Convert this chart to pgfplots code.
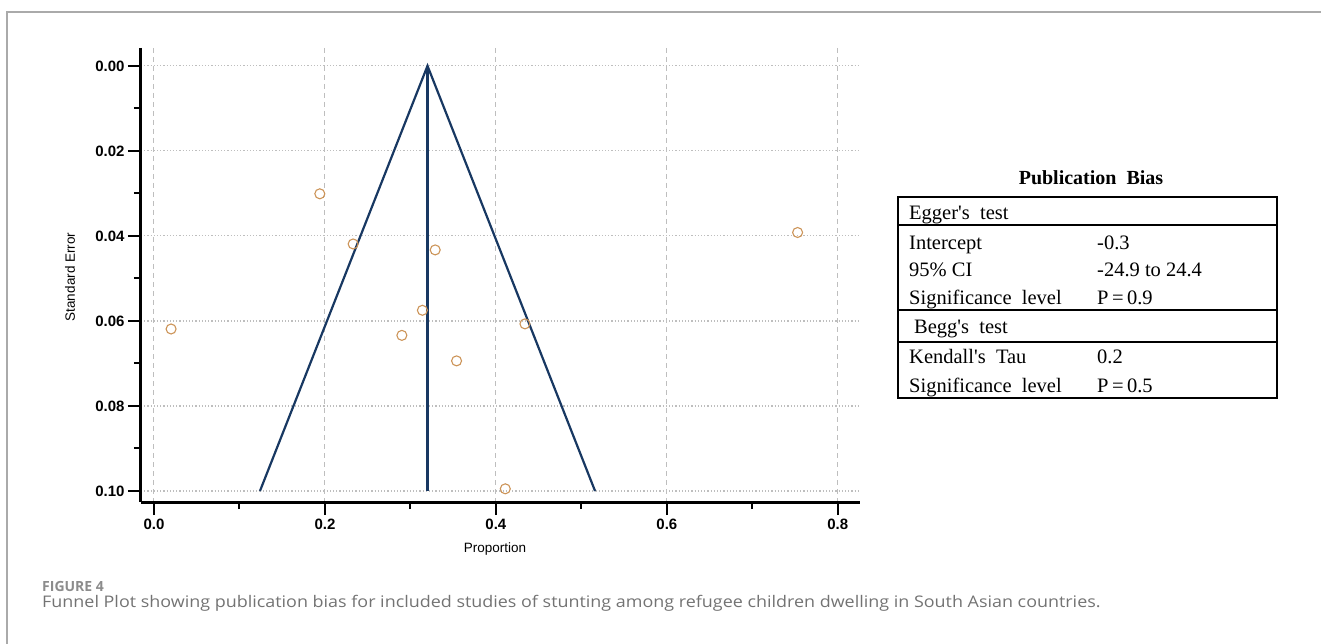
\documentclass[border=0pt]{standalone}
\usepackage{pgfplots}
\pgfplotsset{compat=1.18}
\usepackage{fontspec}
\setmainfont{Liberation Serif}
\newfontfamily\arialf{Liberation Sans}
\newfontfamily\timesf{Liberation Serif}
\newfontfamily\capf{Open Sans}

\definecolor{funnelblue}{RGB}{24,56,98}
\definecolor{studypt}{RGB}{204,148,88}
\definecolor{gridgray}{RGB}{190,190,190}
\definecolor{framegray}{RGB}{170,170,170}
\definecolor{capgray}{RGB}{115,115,115}
\definecolor{figgray}{RGB}{140,140,140}

% study estimates: proportion and standard error
\pgfplotstableread{
p      se
0.194  0.0301
0.233  0.0419
0.329  0.0433
0.314  0.0575
0.020  0.0619
0.290  0.0634
0.354  0.0694
0.434  0.0607
0.411  0.0995
0.753  0.0392
}\studies

% pseudo 95% confidence limits around the pooled proportion
\pgfplotstableread{
p      se
0.124  0.100
0.320  0.000
0.516  0.100
}\funnel

\pgfplotstableread{
p      se
0.320  0.000
0.320  0.100
}\pooled

\begin{document}
\begin{tikzpicture}[x=1pt,y=1pt]
\useasboundingbox (0pt,0pt) rectangle (1321pt,644pt);
% page frame (top and left rule)
\draw[framegray,line width=1.5pt] (7pt,0pt) -- (7pt,632pt) -- (1321pt,632pt);

\begin{axis}[
  at={(500.5pt,369pt)}, anchor=center,
  scale only axis, width=719pt, height=454pt,
  xmin=-0.0152, xmax=0.826,
  ymin=-0.0042, ymax=0.1026, y dir=reverse,
  axis x line=bottom, axis y line=left,
  axis line style={-, line width=3pt, black},
  xtick={0,0.2,0.4,0.6,0.8}, ytick={0,0.02,0.04,0.06,0.08,0.1},
  minor x tick num=1, minor y tick num=1,
  tick align=outside,
  major tick length=13pt, minor tick length=7pt,
  tick style={black, line width=2pt},
  grid=major,
  x grid style={gridgray, line width=1pt, dash pattern=on 5pt off 4pt},
  y grid style={gridgray, line width=1.2pt, dash pattern=on 1.2pt off 2pt},
  /pgf/number format/assume math mode=true,
  tick label style={font=\arialf\bfseries\fontsize{15}{17}\selectfont},
  xticklabel style={/pgf/number format/.cd, fixed, fixed zerofill, precision=1},
  yticklabel style={/pgf/number format/.cd, fixed, fixed zerofill, precision=2},
  xlabel={Proportion}, ylabel={Standard Error},
  label style={font=\arialf\fontsize{13.5}{16}\selectfont},
  xlabel style={at={(axis description cs:0.4923,-0.1035)}, anchor=center},
  ylabel style={at={(axis description cs:-0.0988,0.4956)}, anchor=center},
  clip=false,
]
\addplot[funnelblue, line width=2.2pt, line join=miter] table[x=p,y=se] {\funnel};
\addplot[funnelblue, line width=2.4pt] table[x=p,y=se] {\pooled};
\addplot[only marks, mark=o, mark size=5pt, studypt, mark options={line width=1.1pt}] table[x=p,y=se] {\studies};
\end{axis}

% test summary table
\node[anchor=base, font=\timesf\bfseries\fontsize{20}{24}\selectfont] at (1091pt,459pt) {Publication\ \ Bias};
\draw[line width=1.3pt] (898pt,447pt) rectangle (1277pt,246pt);
\draw[line width=1.3pt] (898pt,419pt) -- (1277pt,419pt);
\draw[line width=1.3pt] (898pt,334pt) -- (1277pt,334pt);
\draw[line width=1.3pt] (898pt,302pt) -- (1277pt,302pt);
\begin{scope}[every node/.style={anchor=base west, inner sep=0pt, font=\timesf\fontsize{20.5}{24}\selectfont}]
\node at (909pt,424pt) {Egger's\ \ test};
\node at (909pt,394pt) {Intercept};
\node at (1097pt,394pt) {-0.3};
\node at (909pt,367pt) {95\% CI};
\node at (1097pt,367pt) {-24.9 to 24.4};
\node at (909pt,339pt) {Significance\ \ level};
\node at (1097pt,339pt) {P\,=\,0.9};
\node at (914pt,310pt) {Begg's\ \ test};
\node at (909pt,280pt) {Kendall's\ \ Tau};
\node at (1097pt,280pt) {0.2};
\node at (909pt,251pt) {Significance\ \ level};
\node at (1097pt,251pt) {P\,=\,0.5};
\end{scope}

% caption
\node[anchor=base west, inner sep=0pt, figgray, font=\capf\bfseries\fontsize{14}{16}\selectfont] at (42pt,52pt) {FIGURE 4};
\node[anchor=base west, inner sep=0pt, capgray, xscale=1.12, font=\capf\fontsize{16}{19}\selectfont] at (42pt,36pt) {Funnel Plot showing publication bias for included studies of stunting among refugee children dwelling in South Asian countries.};
\end{tikzpicture}
\end{document}
